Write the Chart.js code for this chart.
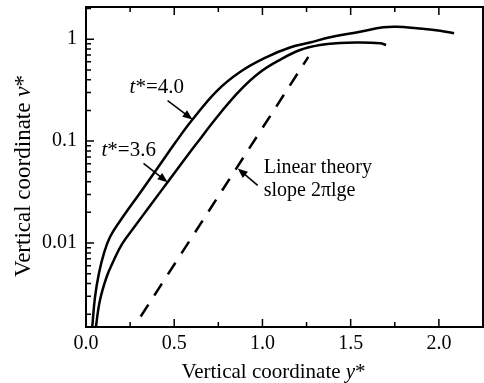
<!DOCTYPE html>
<html>
<head>
<meta charset="utf-8">
<script src="https://cdn.jsdelivr.net/npm/chart.js@4"></script>
<style>
  html, body { margin: 0; padding: 0; background: #fff; }
  #c { display: block; }
</style>
</head>
<body>
<canvas id="c" width="484" height="383"></canvas>
<script>
// ---- data ----
const x40 = [0.0317, 0.0357, 0.051, 0.0737, 0.102, 0.136, 0.193, 0.306, 0.4195, 0.5045, 0.599, 0.741, 0.873, 1.024, 1.156, 1.270, 1.383, 1.553, 1.685, 1.761, 1.875, 2.007, 2.086];
const v40 = [0.00125, 0.00151, 0.00295, 0.00508, 0.00798, 0.01146, 0.01644, 0.0310, 0.0589, 0.0957, 0.159, 0.310, 0.477, 0.668, 0.830, 0.929, 1.044, 1.185, 1.309, 1.327, 1.279, 1.211, 1.143];

const x36 = [0.0539, 0.0567, 0.0794, 0.1173, 0.153, 0.204, 0.278, 0.363, 0.476, 0.6276, 0.760, 0.873, 0.986, 1.100, 1.213, 1.327, 1.440, 1.536, 1.667, 1.701];
const v36 = [0.00125, 0.00151, 0.00276, 0.00467, 0.00651, 0.00977, 0.01469, 0.0232, 0.0425, 0.0951, 0.1875, 0.315, 0.473, 0.628, 0.783, 0.877, 0.918, 0.929, 0.912, 0.877];

const xLin = [0.31, 1.26];
const vLin = [0.0019, 0.67];

const xTickValues = [0, 0.5, 1.0, 1.5, 2.0];
const xMinorTickValues = [0.25, 0.75, 1.25, 1.75, 2.25];
const yTickValues = [0.01, 0.1, 1];
const yTickLabels = ['0.01', '0.1', '1'];

const xTitle = [['Vertical coordinate ', false], ['y', true], ['*', false]];
const yTitle = [['Vertical coordinate ', false], ['v', true], ['*', false]];
const label40 = [['t', true], ['*=4.0', false]];
const label36 = [['t', true], ['*=3.6', false]];
const labelLin1 = [['Linear theory', false]];
const labelLin2 = [['slope 2πlge', false]];

// annotation anchors (data coordinates)
const annot40 = { x: 0.247, v: 0.336 };
const arrow40 = { x0: 0.4625, v0: 0.25, x1: 0.604, v1: 0.163 };
const annot36 = { x: 0.088, v: 0.081 };
const arrow36 = { x0: 0.326, v0: 0.0604, x1: 0.4625, v1: 0.0394 };
const annotLin1 = { x: 1.007, v: 0.0552 };
const annotLin2 = { x: 1.007, v: 0.0329 };
const arrowLin = { x0: 0.973, v0: 0.0368, x1: 0.86, v1: 0.054 };

const FONT = '"Liberation Serif", "Times New Roman", serif';

function pts(xs, ys) { return xs.map((x, i) => ({ x: x, y: ys[i] })); }

function richWidth(ctx, parts, size) {
  let w = 0;
  for (const [t, it] of parts) {
    ctx.font = (it ? 'italic ' : '') + size + 'px ' + FONT;
    w += ctx.measureText(t).width;
  }
  return w;
}
function drawRich(ctx, parts, x, y, size, align) {
  const w = richWidth(ctx, parts, size);
  let cx = align === 'center' ? x - w / 2 : x;
  ctx.textBaseline = 'middle';
  ctx.textAlign = 'left';
  for (const [t, it] of parts) {
    ctx.font = (it ? 'italic ' : '') + size + 'px ' + FONT;
    ctx.fillText(t, cx, y);
    cx += ctx.measureText(t).width;
  }
}
function drawArrow(ctx, x0, y0, x1, y1) {
  const ang = Math.atan2(y1 - y0, x1 - x0);
  const L = 10, W = 4;
  ctx.beginPath();
  ctx.moveTo(x0, y0);
  ctx.lineTo(x1 - Math.cos(ang) * L * 0.8, y1 - Math.sin(ang) * L * 0.8);
  ctx.lineWidth = 1.5;
  ctx.stroke();
  ctx.beginPath();
  ctx.moveTo(x1, y1);
  ctx.lineTo(x1 - Math.cos(ang) * L - Math.sin(ang) * W, y1 - Math.sin(ang) * L + Math.cos(ang) * W);
  ctx.lineTo(x1 - Math.cos(ang) * L + Math.sin(ang) * W, y1 - Math.sin(ang) * L - Math.cos(ang) * W);
  ctx.closePath();
  ctx.fill();
}

const framePlugin = {
  id: 'frame',
  afterDraw(chart) {
    const ctx = chart.ctx;
    const a = chart.chartArea;
    const xs = chart.scales.x, ys = chart.scales.y;
    ctx.save();
    ctx.strokeStyle = '#000';
    ctx.fillStyle = '#000';
    ctx.lineWidth = 2;
    ctx.strokeRect(a.left, a.top, a.right - a.left, a.bottom - a.top);
    ctx.lineWidth = 1.5;
    ctx.beginPath();
    for (const v of xTickValues) {
      const p = xs.getPixelForValue(v);
      ctx.moveTo(p, a.bottom); ctx.lineTo(p, a.bottom - 8);
      ctx.moveTo(p, a.top); ctx.lineTo(p, a.top + 8);
    }
    for (const v of xMinorTickValues) {
      const p = xs.getPixelForValue(v);
      ctx.moveTo(p, a.bottom); ctx.lineTo(p, a.bottom - 5);
      ctx.moveTo(p, a.top); ctx.lineTo(p, a.top + 5);
    }
    for (const v of yTickValues) {
      const p = ys.getPixelForValue(v);
      ctx.moveTo(a.left, p); ctx.lineTo(a.left + 8, p);
    }
    for (let d = 0.001; d <= 1; d *= 10) {
      for (let m = 2; m <= 9; m++) {
        const v = m * d;
        if (v < ys.min || v > ys.max) continue;
        const p = ys.getPixelForValue(v);
        ctx.moveTo(a.left, p); ctx.lineTo(a.left + 5, p);
      }
    }
    ctx.stroke();

    ctx.fillStyle = '#000';
    drawRich(ctx, xTitle, (a.left + a.right) / 2 - 11, 372, 21, 'center');
    ctx.save();
    ctx.translate(24, 176);
    ctx.rotate(-Math.PI / 2);
    drawRich(ctx, yTitle, 0, 0, 23, 'center');
    ctx.restore();

    drawRich(ctx, label40, xs.getPixelForValue(annot40.x), ys.getPixelForValue(annot40.v), 21, 'left');
    drawRich(ctx, label36, xs.getPixelForValue(annot36.x), ys.getPixelForValue(annot36.v), 21, 'left');
    drawRich(ctx, labelLin1, xs.getPixelForValue(annotLin1.x), ys.getPixelForValue(annotLin1.v), 20, 'left');
    drawRich(ctx, labelLin2, xs.getPixelForValue(annotLin2.x), ys.getPixelForValue(annotLin2.v), 20, 'left');
    for (const ar of [arrow40, arrow36, arrowLin]) {
      drawArrow(ctx, xs.getPixelForValue(ar.x0), ys.getPixelForValue(ar.v0),
                     xs.getPixelForValue(ar.x1), ys.getPixelForValue(ar.v1));
    }
    ctx.restore();
  }
};

const lineStyle = {
  showLine: true, pointRadius: 0, borderColor: '#000', borderWidth: 2.5,
  backgroundColor: '#000', fill: false, tension: 0.4
};

new Chart(document.getElementById('c'), {
  type: 'scatter',
  data: {
    datasets: [
      Object.assign({ label: 't*=4.0', data: pts(x40, v40) }, lineStyle),
      Object.assign({ label: 't*=3.6', data: pts(x36, v36) }, lineStyle),
      Object.assign({ label: 'Linear theory', data: pts(xLin, vLin), borderDash: [14, 11] }, lineStyle)
    ]
  },
  options: {
    responsive: false,
    animation: false,
    devicePixelRatio: 1,
    layout: { padding: { top: 7, right: 1, left: 0, bottom: 0 } },
    plugins: { legend: { display: false }, tooltip: { enabled: false } },
    scales: {
      x: {
        type: 'linear', min: 0, max: 2.25,
        afterBuildTicks: s => { s.ticks = xTickValues.map(v => ({ value: v })); },
        ticks: {
          color: '#000', font: { family: FONT, size: 20 }, padding: 5,
          maxRotation: 0, autoSkip: false,
          callback: v => Number(v).toFixed(1)
        },
        grid: { display: false, drawTicks: false },
        border: { display: false },
        afterFit: s => { s.height = 56; s.paddingLeft = 0; s.paddingRight = 0; }
      },
      y: {
        type: 'logarithmic', min: 0.0015, max: 2.07,
        afterBuildTicks: s => { s.ticks = yTickValues.map(v => ({ value: v })); },
        ticks: {
          color: '#000', font: { family: FONT, size: 20 }, padding: 9,
          autoSkip: false,
          callback: (v) => { const i = yTickValues.findIndex(t => Math.abs(t - v) < t * 1e-6); return i >= 0 ? yTickLabels[i] : ''; }
        },
        grid: { display: false, drawTicks: false },
        border: { display: false },
        afterFit: s => { s.width = 86; s.paddingTop = 0; s.paddingBottom = 0; }
      }
    }
  },
  plugins: [framePlugin]
});
</script>
</body>
</html>
